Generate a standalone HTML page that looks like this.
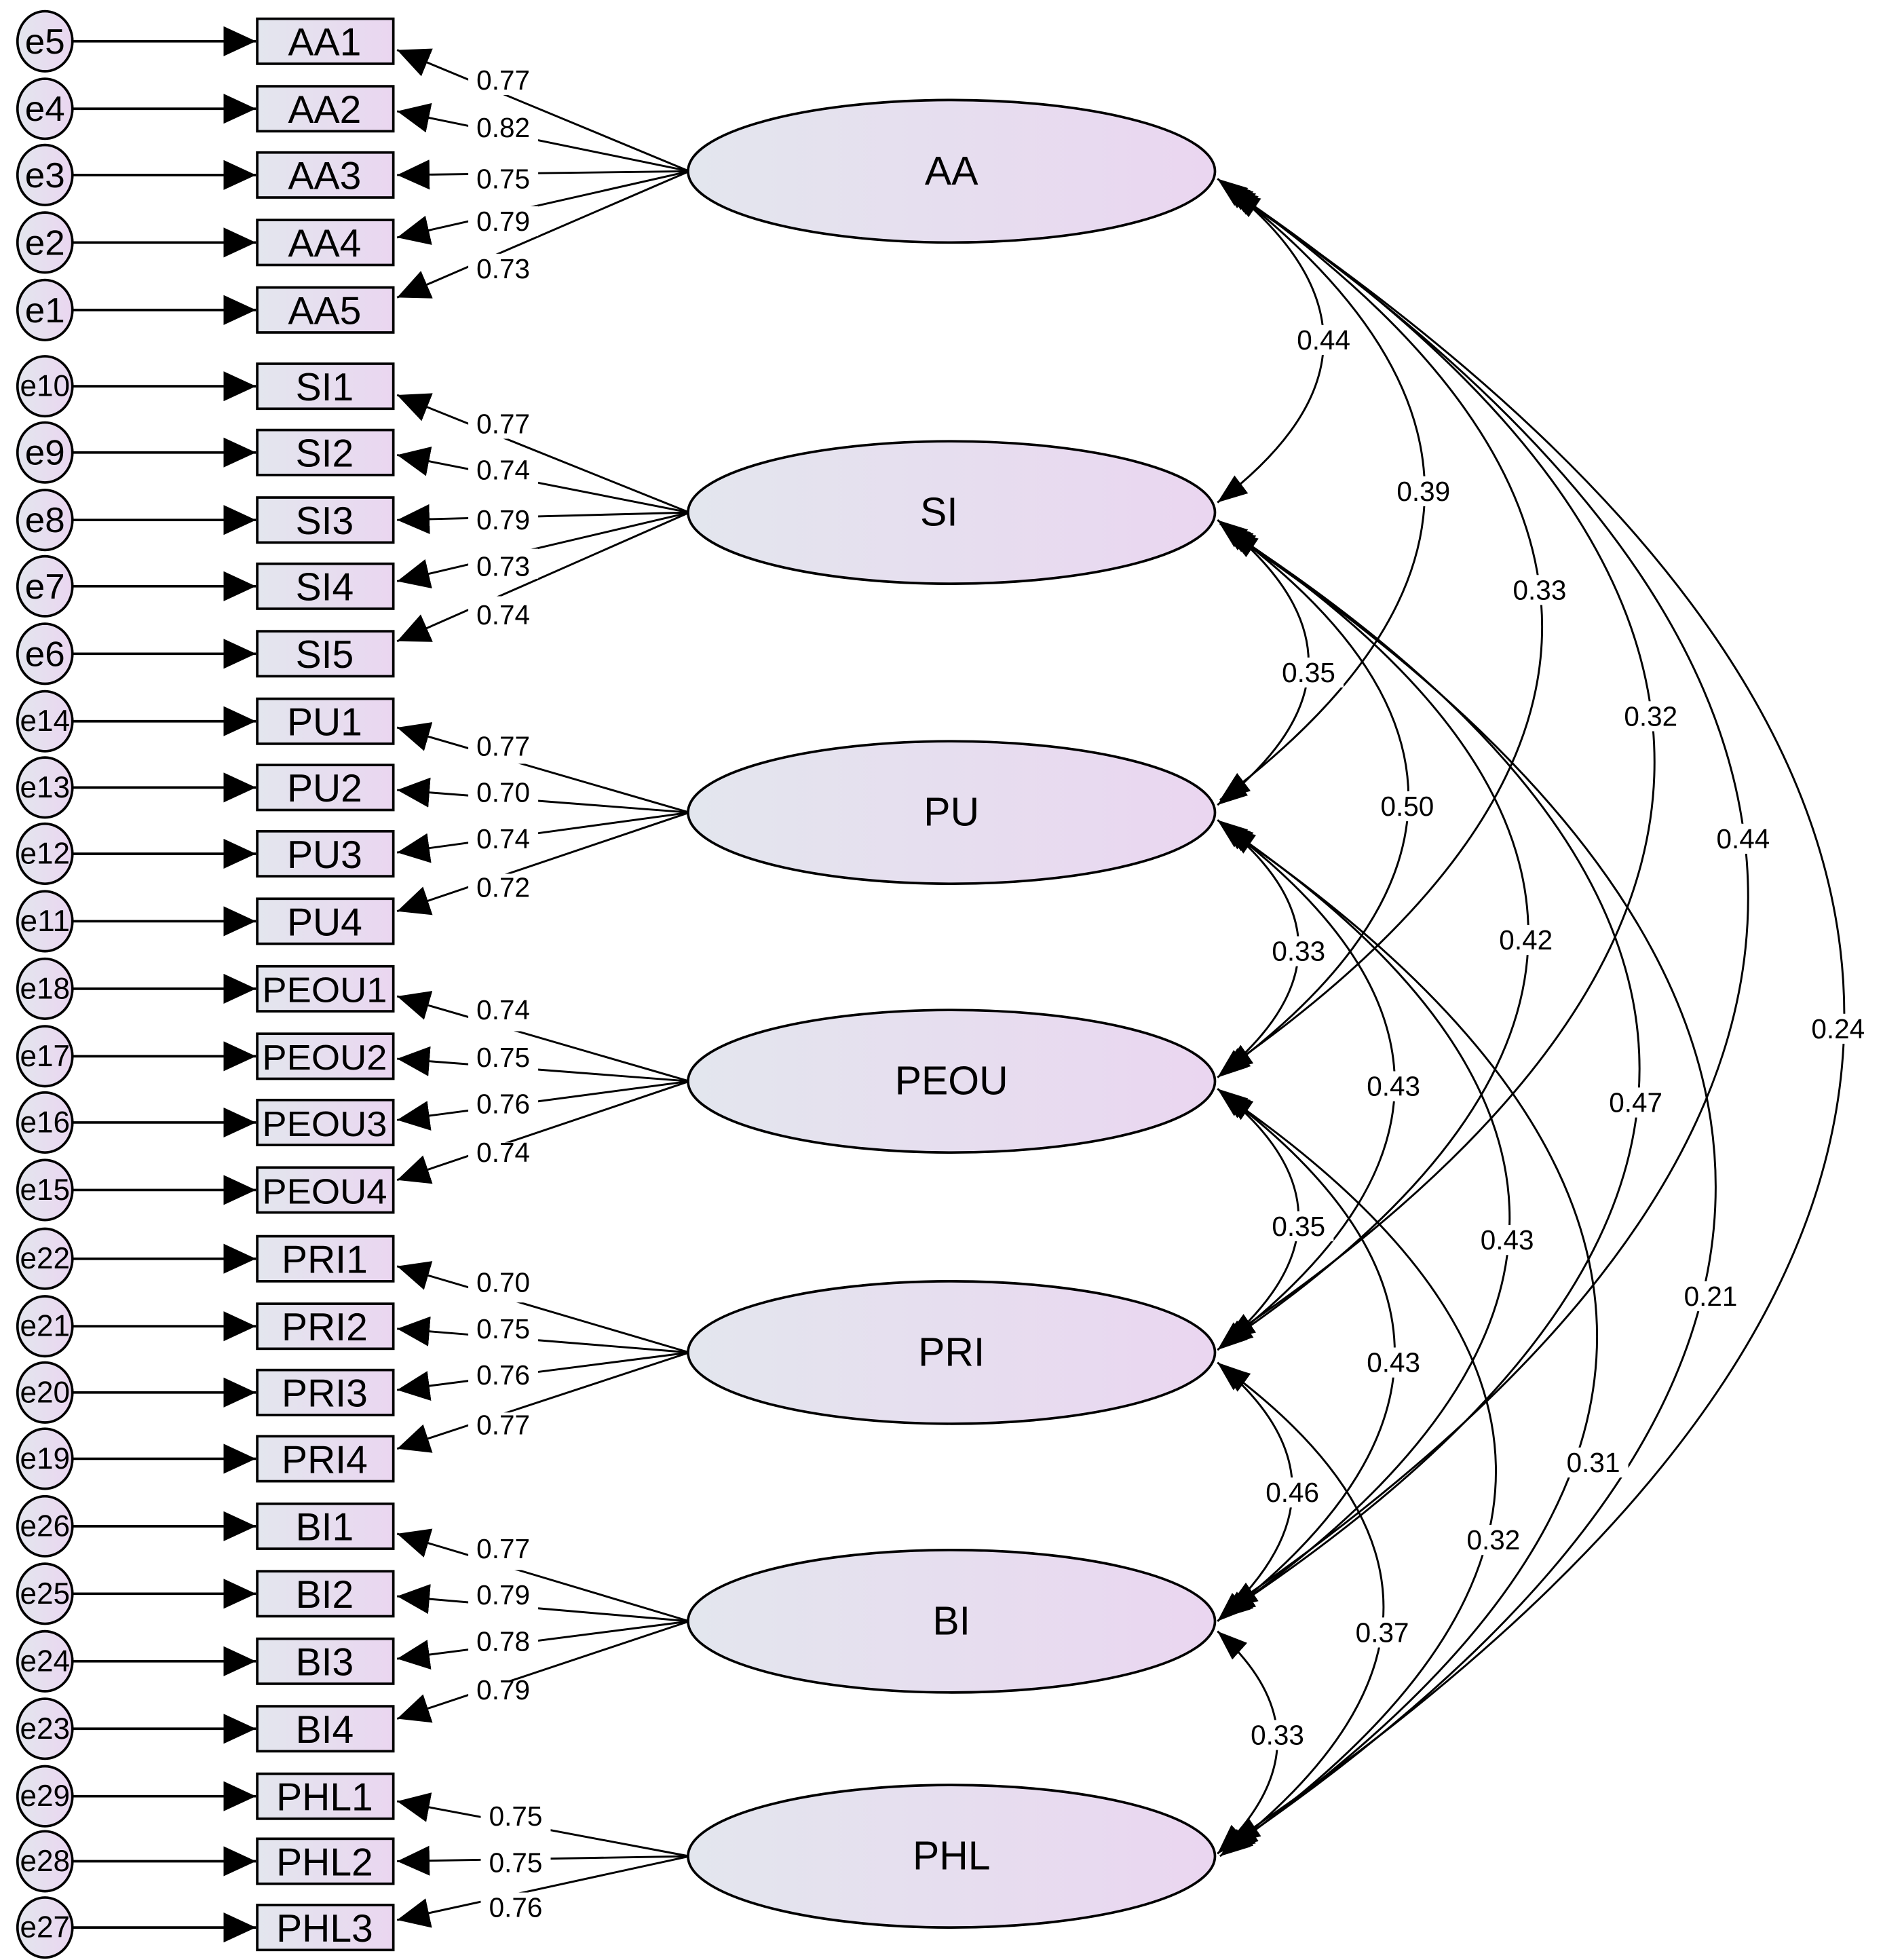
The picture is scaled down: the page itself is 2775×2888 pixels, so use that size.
<!DOCTYPE html>
<html><head><meta charset="utf-8"><style>html,body{margin:0;padding:0;background:#fff}svg{display:block}</style></head><body>
<svg width="2775" height="2888" viewBox="0 0 1508 1568" preserveAspectRatio="none" xmlns="http://www.w3.org/2000/svg" font-family="Liberation Sans, sans-serif">
<defs>
<linearGradient id="g" x1="0" x2="1" y1="0" y2="0"><stop offset="0" stop-color="#e3e6ee"/><stop offset="1" stop-color="#ead6f0"/></linearGradient>
<marker id="a" viewBox="0 0 26 24" refX="26" refY="12" markerUnits="userSpaceOnUse" markerWidth="26" markerHeight="24" orient="auto-start-reverse"><path d="M0,0L26,12L0,24z" fill="#000"/></marker>
<marker id="c" viewBox="0 0 24 18" refX="24" refY="9" markerUnits="userSpaceOnUse" markerWidth="24" markerHeight="18" orient="auto-start-reverse"><path d="M0,0L24,9L0,18z" fill="#000"/></marker>
</defs>
<g fill="none" stroke="#000" stroke-width="1.6" marker-start="url(#c)" marker-end="url(#c)">
<path d="M975,143Q1145,273 975,402"/>
<path d="M977,145Q1305,393 977,640"/>
<path d="M979,147Q1491,501 979,857"/>
<path d="M981,149Q1669,609 981,1072"/>
<path d="M983,151Q1817,717 983,1287"/>
<path d="M985,153Q1969,811 985,1475"/>
<path d="M975,416Q1121,530 975,644"/>
<path d="M977,419Q1279,637 977,860"/>
<path d="M979,421Q1469,746 979,1076"/>
<path d="M981,423Q1645,853 981,1291"/>
<path d="M983,425Q1765,947 983,1479"/>
<path d="M975,656Q1105,757 975,862"/>
<path d="M977,658Q1257,866 977,1078"/>
<path d="M979,660Q1439,973 979,1293"/>
<path d="M981,662Q1577,1067 981,1481"/>
<path d="M975,871Q1105,973 975,1080"/>
<path d="M977,873Q1257,1081 977,1295"/>
<path d="M979,875Q1417,1175 979,1483"/>
<path d="M975,1090Q1095,1189 975,1297"/>
<path d="M977,1092Q1239,1283 977,1485"/>
<path d="M975,1305Q1071,1391 975,1483"/>
</g>
<g font-size="22" text-anchor="middle" dominant-baseline="central">
<g fill="#fff"><rect x="1032" y="260" width="56" height="24"/><rect x="1112" y="381" width="56" height="24"/><rect x="1205" y="460" width="56" height="24"/><rect x="1294" y="561" width="56" height="24"/><rect x="1368" y="659" width="56" height="24"/><rect x="1444" y="811" width="56" height="24"/><rect x="1020" y="526" width="56" height="24"/><rect x="1099" y="633" width="56" height="24"/><rect x="1194" y="740" width="56" height="24"/><rect x="1282" y="870" width="56" height="24"/><rect x="1342" y="1025" width="56" height="24"/><rect x="1012" y="749" width="56" height="24"/><rect x="1088" y="857" width="56" height="24"/><rect x="1179" y="980" width="56" height="24"/><rect x="1248" y="1158" width="56" height="24"/><rect x="1012" y="969" width="56" height="24"/><rect x="1088" y="1078" width="56" height="24"/><rect x="1168" y="1220" width="56" height="24"/><rect x="1007" y="1182" width="56" height="24"/><rect x="1079" y="1294" width="56" height="24"/><rect x="995" y="1376" width="56" height="24"/></g>
<text x="1060" y="272">0.44</text><text x="1140" y="393">0.39</text><text x="1233" y="472">0.33</text><text x="1322" y="573">0.32</text><text x="1396" y="671">0.44</text><text x="1472" y="823">0.24</text><text x="1048" y="538">0.35</text><text x="1127" y="645">0.50</text><text x="1222" y="752">0.42</text><text x="1310" y="882">0.47</text><text x="1370" y="1037">0.21</text><text x="1040" y="761">0.33</text><text x="1116" y="869">0.43</text><text x="1207" y="992">0.43</text><text x="1276" y="1170">0.31</text><text x="1040" y="981">0.35</text><text x="1116" y="1090">0.43</text><text x="1196" y="1232">0.32</text><text x="1035" y="1194">0.46</text><text x="1107" y="1306">0.37</text><text x="1023" y="1388">0.33</text>
</g>
<g stroke="#000" stroke-width="1.6" marker-end="url(#a)">
<line x1="552" y1="137" x2="318" y2="40"/><line x1="552" y1="137" x2="318" y2="89"/><line x1="552" y1="137" x2="318" y2="140"/><line x1="552" y1="137" x2="318" y2="190"/><line x1="552" y1="137" x2="318" y2="238"/>
<line x1="552" y1="410" x2="318" y2="316"/><line x1="552" y1="410" x2="318" y2="364"/><line x1="552" y1="410" x2="318" y2="416"/><line x1="552" y1="410" x2="318" y2="465"/><line x1="552" y1="410" x2="318" y2="513"/>
<line x1="552" y1="650" x2="318" y2="582"/><line x1="552" y1="650" x2="318" y2="632"/><line x1="552" y1="650" x2="318" y2="682"/><line x1="552" y1="650" x2="318" y2="729"/>
<line x1="552" y1="865" x2="318" y2="797"/><line x1="552" y1="865" x2="318" y2="847"/><line x1="552" y1="865" x2="318" y2="896"/><line x1="552" y1="865" x2="318" y2="944"/>
<line x1="552" y1="1082" x2="318" y2="1013"/><line x1="552" y1="1082" x2="318" y2="1063"/><line x1="552" y1="1082" x2="318" y2="1112"/><line x1="552" y1="1082" x2="318" y2="1159"/>
<line x1="552" y1="1297" x2="318" y2="1227"/><line x1="552" y1="1297" x2="318" y2="1277"/><line x1="552" y1="1297" x2="318" y2="1327"/><line x1="552" y1="1297" x2="318" y2="1375"/>
<line x1="552" y1="1485" x2="318" y2="1441"/><line x1="552" y1="1485" x2="318" y2="1489"/><line x1="552" y1="1485" x2="318" y2="1536"/>
</g>
<g font-size="22" text-anchor="middle" dominant-baseline="central">
<g fill="#fff">
<rect x="375" y="52" width="56" height="24"/><rect x="375" y="90" width="56" height="24"/><rect x="375" y="129" width="56" height="24"/><rect x="375" y="165" width="56" height="24"/><rect x="375" y="203" width="56" height="24"/>
<rect x="375" y="327" width="56" height="24"/><rect x="375" y="364" width="56" height="24"/><rect x="375" y="402" width="56" height="24"/><rect x="375" y="439" width="56" height="24"/><rect x="375" y="477" width="56" height="24"/>
<rect x="375" y="587" width="56" height="24"/><rect x="375" y="624" width="56" height="24"/><rect x="375" y="661" width="56" height="24"/><rect x="375" y="699" width="56" height="24"/>
<rect x="375" y="801" width="56" height="24"/><rect x="375" y="839" width="56" height="24"/><rect x="375" y="876" width="56" height="24"/><rect x="375" y="914" width="56" height="24"/>
<rect x="375" y="1018" width="56" height="24"/><rect x="375" y="1055" width="56" height="24"/><rect x="375" y="1092" width="56" height="24"/><rect x="375" y="1130" width="56" height="24"/>
<rect x="375" y="1232" width="56" height="24"/><rect x="375" y="1270" width="56" height="24"/><rect x="375" y="1307" width="56" height="24"/><rect x="375" y="1345" width="56" height="24"/>
<rect x="385" y="1441" width="56" height="24"/><rect x="385" y="1478" width="56" height="24"/><rect x="385" y="1514" width="56" height="24"/>
</g>
<text x="403" y="64">0.77</text><text x="403" y="102">0.82</text><text x="403" y="143">0.75</text><text x="403" y="177">0.79</text><text x="403" y="215">0.73</text>
<text x="403" y="339">0.77</text><text x="403" y="376">0.74</text><text x="403" y="416">0.79</text><text x="403" y="453">0.73</text><text x="403" y="492">0.74</text>
<text x="403" y="597">0.77</text><text x="403" y="634">0.70</text><text x="403" y="671">0.74</text><text x="403" y="710">0.72</text>
<text x="403" y="808">0.74</text><text x="403" y="846">0.75</text><text x="403" y="883">0.76</text><text x="403" y="922">0.74</text>
<text x="403" y="1026">0.70</text><text x="403" y="1063">0.75</text><text x="403" y="1100">0.76</text><text x="403" y="1140">0.77</text>
<text x="403" y="1239">0.77</text><text x="403" y="1276">0.79</text><text x="403" y="1313">0.78</text><text x="403" y="1352">0.79</text>
<text x="413" y="1453">0.75</text><text x="413" y="1490">0.75</text><text x="413" y="1526">0.76</text>
</g>
<g fill="url(#g)" stroke="#000" stroke-width="2">
<ellipse cx="762" cy="137" rx="211" ry="57"/><ellipse cx="762" cy="410" rx="211" ry="57"/><ellipse cx="762" cy="650" rx="211" ry="57"/><ellipse cx="762" cy="865" rx="211" ry="57"/><ellipse cx="762" cy="1082" rx="211" ry="57"/><ellipse cx="762" cy="1297" rx="211" ry="57"/><ellipse cx="762" cy="1485" rx="211" ry="57"/>
</g>
<g font-size="32" text-anchor="middle" dominant-baseline="central">
<text x="762" y="137">AA</text><text x="752" y="410">SI</text><text x="762" y="650">PU</text><text x="762" y="865">PEOU</text><text x="762" y="1082">PRI</text><text x="762" y="1297">BI</text><text x="762" y="1485">PHL</text>
</g>
<g stroke="#000" stroke-width="2" marker-end="url(#a)">
<line x1="58" y1="33" x2="205" y2="33"/><line x1="58" y1="87" x2="205" y2="87"/><line x1="58" y1="140" x2="205" y2="140"/><line x1="58" y1="194" x2="205" y2="194"/><line x1="58" y1="248" x2="205" y2="248"/>
<line x1="58" y1="309" x2="205" y2="309"/><line x1="58" y1="362" x2="205" y2="362"/><line x1="58" y1="416" x2="205" y2="416"/><line x1="58" y1="469" x2="205" y2="469"/><line x1="58" y1="523" x2="205" y2="523"/>
<line x1="58" y1="577" x2="205" y2="577"/><line x1="58" y1="630" x2="205" y2="630"/><line x1="58" y1="683" x2="205" y2="683"/><line x1="58" y1="737" x2="205" y2="737"/>
<line x1="58" y1="791" x2="205" y2="791"/><line x1="58" y1="845" x2="205" y2="845"/><line x1="58" y1="898" x2="205" y2="898"/><line x1="58" y1="952" x2="205" y2="952"/>
<line x1="58" y1="1007" x2="205" y2="1007"/><line x1="58" y1="1061" x2="205" y2="1061"/><line x1="58" y1="1114" x2="205" y2="1114"/><line x1="58" y1="1167" x2="205" y2="1167"/>
<line x1="58" y1="1221" x2="205" y2="1221"/><line x1="58" y1="1275" x2="205" y2="1275"/><line x1="58" y1="1329" x2="205" y2="1329"/><line x1="58" y1="1383" x2="205" y2="1383"/>
<line x1="58" y1="1437" x2="205" y2="1437"/><line x1="58" y1="1489" x2="205" y2="1489"/><line x1="58" y1="1542" x2="205" y2="1542"/>
</g>
<g fill="url(#g)" stroke="#000" stroke-width="2">
<ellipse cx="36" cy="33" rx="22" ry="24"/><ellipse cx="36" cy="87" rx="22" ry="24"/><ellipse cx="36" cy="140" rx="22" ry="24"/><ellipse cx="36" cy="194" rx="22" ry="24"/><ellipse cx="36" cy="248" rx="22" ry="24"/>
<ellipse cx="36" cy="309" rx="22" ry="24"/><ellipse cx="36" cy="362" rx="22" ry="24"/><ellipse cx="36" cy="416" rx="22" ry="24"/><ellipse cx="36" cy="469" rx="22" ry="24"/><ellipse cx="36" cy="523" rx="22" ry="24"/>
<ellipse cx="36" cy="577" rx="22" ry="24"/><ellipse cx="36" cy="630" rx="22" ry="24"/><ellipse cx="36" cy="683" rx="22" ry="24"/><ellipse cx="36" cy="737" rx="22" ry="24"/>
<ellipse cx="36" cy="791" rx="22" ry="24"/><ellipse cx="36" cy="845" rx="22" ry="24"/><ellipse cx="36" cy="898" rx="22" ry="24"/><ellipse cx="36" cy="952" rx="22" ry="24"/>
<ellipse cx="36" cy="1007" rx="22" ry="24"/><ellipse cx="36" cy="1061" rx="22" ry="24"/><ellipse cx="36" cy="1114" rx="22" ry="24"/><ellipse cx="36" cy="1167" rx="22" ry="24"/>
<ellipse cx="36" cy="1221" rx="22" ry="24"/><ellipse cx="36" cy="1275" rx="22" ry="24"/><ellipse cx="36" cy="1329" rx="22" ry="24"/><ellipse cx="36" cy="1383" rx="22" ry="24"/>
<ellipse cx="36" cy="1437" rx="22" ry="24"/><ellipse cx="36" cy="1489" rx="22" ry="24"/><ellipse cx="36" cy="1542" rx="22" ry="24"/>
</g>
<g font-size="28" text-anchor="middle" dominant-baseline="central">
<text x="36" y="33" textLength="32" lengthAdjust="spacingAndGlyphs">e5</text><text x="36" y="87" textLength="32" lengthAdjust="spacingAndGlyphs">e4</text><text x="36" y="140" textLength="32" lengthAdjust="spacingAndGlyphs">e3</text><text x="36" y="194" textLength="32" lengthAdjust="spacingAndGlyphs">e2</text><text x="36" y="248" textLength="32" lengthAdjust="spacingAndGlyphs">e1</text>
<text x="36" y="362" textLength="32" lengthAdjust="spacingAndGlyphs">e9</text><text x="36" y="416" textLength="32" lengthAdjust="spacingAndGlyphs">e8</text><text x="36" y="469" textLength="32" lengthAdjust="spacingAndGlyphs">e7</text><text x="36" y="523" textLength="32" lengthAdjust="spacingAndGlyphs">e6</text>
</g>
<g font-size="24" text-anchor="middle" dominant-baseline="central">
<text x="36" y="309" textLength="40" lengthAdjust="spacingAndGlyphs">e10</text>
<text x="36" y="577" textLength="40" lengthAdjust="spacingAndGlyphs">e14</text><text x="36" y="630" textLength="40" lengthAdjust="spacingAndGlyphs">e13</text><text x="36" y="683" textLength="40" lengthAdjust="spacingAndGlyphs">e12</text><text x="36" y="737" textLength="40" lengthAdjust="spacingAndGlyphs">e11</text>
<text x="36" y="791" textLength="40" lengthAdjust="spacingAndGlyphs">e18</text><text x="36" y="845" textLength="40" lengthAdjust="spacingAndGlyphs">e17</text><text x="36" y="898" textLength="40" lengthAdjust="spacingAndGlyphs">e16</text><text x="36" y="952" textLength="40" lengthAdjust="spacingAndGlyphs">e15</text>
<text x="36" y="1007" textLength="40" lengthAdjust="spacingAndGlyphs">e22</text><text x="36" y="1061" textLength="40" lengthAdjust="spacingAndGlyphs">e21</text><text x="36" y="1114" textLength="40" lengthAdjust="spacingAndGlyphs">e20</text><text x="36" y="1167" textLength="40" lengthAdjust="spacingAndGlyphs">e19</text>
<text x="36" y="1221" textLength="40" lengthAdjust="spacingAndGlyphs">e26</text><text x="36" y="1275" textLength="40" lengthAdjust="spacingAndGlyphs">e25</text><text x="36" y="1329" textLength="40" lengthAdjust="spacingAndGlyphs">e24</text><text x="36" y="1383" textLength="40" lengthAdjust="spacingAndGlyphs">e23</text>
<text x="36" y="1437" textLength="40" lengthAdjust="spacingAndGlyphs">e29</text><text x="36" y="1489" textLength="40" lengthAdjust="spacingAndGlyphs">e28</text><text x="36" y="1542" textLength="40" lengthAdjust="spacingAndGlyphs">e27</text>
</g>
<g fill="url(#g)" stroke="#000" stroke-width="2">
<rect x="206" y="15" width="109" height="36"/><rect x="206" y="69" width="109" height="36"/><rect x="206" y="122" width="109" height="36"/><rect x="206" y="176" width="109" height="36"/><rect x="206" y="230" width="109" height="36"/>
<rect x="206" y="291" width="109" height="36"/><rect x="206" y="344" width="109" height="36"/><rect x="206" y="398" width="109" height="36"/><rect x="206" y="451" width="109" height="36"/><rect x="206" y="505" width="109" height="36"/>
<rect x="206" y="559" width="109" height="36"/><rect x="206" y="612" width="109" height="36"/><rect x="206" y="665" width="109" height="36"/><rect x="206" y="719" width="109" height="36"/>
<rect x="206" y="773" width="109" height="36"/><rect x="206" y="827" width="109" height="36"/><rect x="206" y="880" width="109" height="36"/><rect x="206" y="934" width="109" height="36"/>
<rect x="206" y="989" width="109" height="36"/><rect x="206" y="1043" width="109" height="36"/><rect x="206" y="1096" width="109" height="36"/><rect x="206" y="1149" width="109" height="36"/>
<rect x="206" y="1203" width="109" height="36"/><rect x="206" y="1257" width="109" height="36"/><rect x="206" y="1311" width="109" height="36"/><rect x="206" y="1365" width="109" height="36"/>
<rect x="206" y="1419" width="109" height="36"/><rect x="206" y="1471" width="109" height="36"/><rect x="206" y="1524" width="109" height="36"/>
</g>
<g font-size="31" text-anchor="middle" dominant-baseline="central">
<text x="260" y="34">AA1</text><text x="260" y="88">AA2</text><text x="260" y="141">AA3</text><text x="260" y="195">AA4</text><text x="260" y="249">AA5</text>
<text x="260" y="310">SI1</text><text x="260" y="363">SI2</text><text x="260" y="417">SI3</text><text x="260" y="470">SI4</text><text x="260" y="524">SI5</text>
<text x="260" y="578">PU1</text><text x="260" y="631">PU2</text><text x="260" y="684">PU3</text><text x="260" y="738">PU4</text>
<text x="260" y="1008">PRI1</text><text x="260" y="1062">PRI2</text><text x="260" y="1115">PRI3</text><text x="260" y="1168">PRI4</text>
<text x="260" y="1222">BI1</text><text x="260" y="1276">BI2</text><text x="260" y="1330">BI3</text><text x="260" y="1384">BI4</text>
<text x="260" y="1438">PHL1</text><text x="260" y="1490">PHL2</text><text x="260" y="1543">PHL3</text>
</g>
<g font-size="28" text-anchor="middle" dominant-baseline="central">
<text x="260" y="792" textLength="100" lengthAdjust="spacingAndGlyphs">PEOU1</text><text x="260" y="846" textLength="100" lengthAdjust="spacingAndGlyphs">PEOU2</text><text x="260" y="899" textLength="100" lengthAdjust="spacingAndGlyphs">PEOU3</text><text x="260" y="953" textLength="100" lengthAdjust="spacingAndGlyphs">PEOU4</text>
</g>
</svg>
</body></html>
